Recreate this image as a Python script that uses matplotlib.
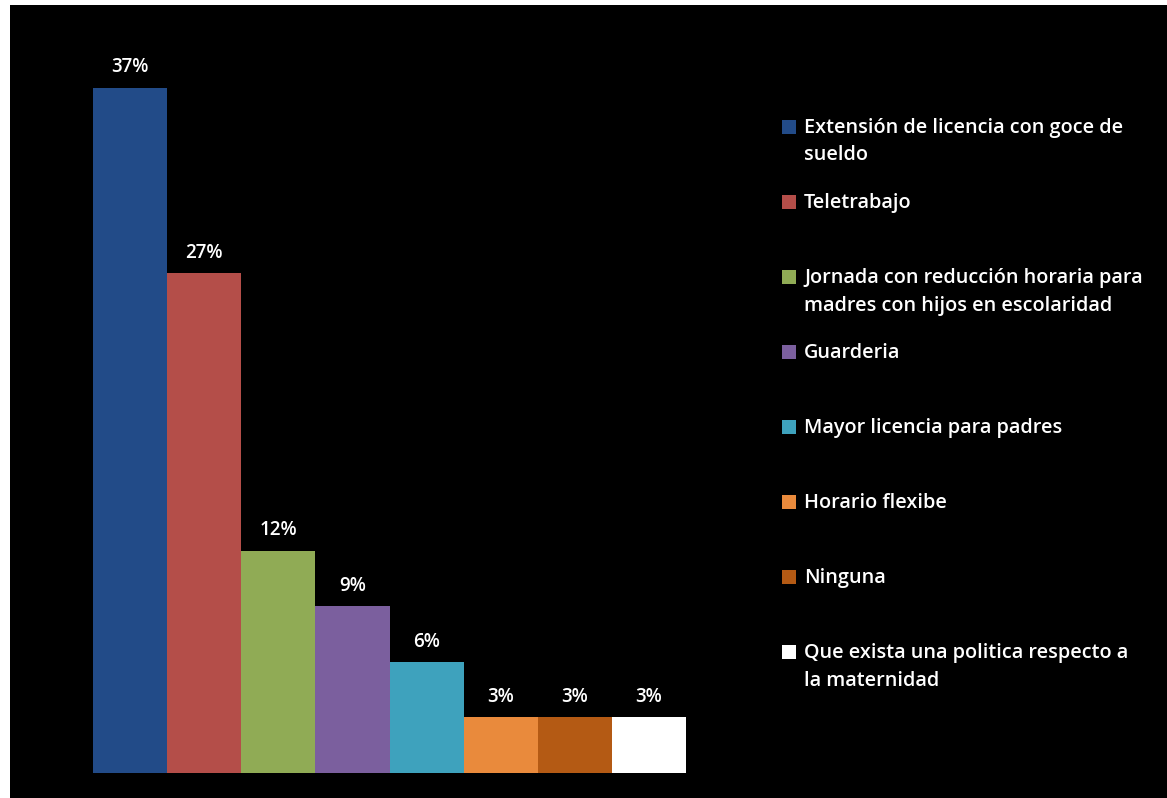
import matplotlib.pyplot as plt
from matplotlib.patches import Rectangle

plt.rcParams['font.family'] = ['Open Sans', 'DejaVu Sans']

categorias = [
    "Extensión de licencia con goce de\nsueldo",
    "Teletrabajo",
    "Jornada con reducción horaria para\nmadres con hijos en escolaridad",
    "Guarderia",
    "Mayor licencia para padres",
    "Horario flexibe",
    "Ninguna",
    "Que exista una politica respecto a\nla maternidad",
]
porcentajes = [37, 27, 12, 9, 6, 3, 3, 3]
colores = ["#224b88", "#b44e49", "#90ab55", "#7b5f9e", "#3ea2bd",
           "#e98a3c", "#b45a14", "#ffffff"]

W, H = 1167, 798
fig = plt.figure(figsize=(W / 100, H / 100), dpi=100, facecolor="white")
# black panel with a thin white margin on the top and left
fig.patches.append(Rectangle((10 / W, 0), 1 - 10 / W, 1 - 5 / H,
                             transform=fig.transFigure, facecolor="black",
                             edgecolor="none", zorder=-5))

ax = fig.add_axes([93 / W, 25 / H, (686 - 93) / W, 740.8 / H])
ax.set_facecolor("black")
x = range(len(porcentajes))
barras = ax.bar(x, porcentajes, width=1.0, color=colores, edgecolor="none")
ax.set_xlim(-0.5, len(porcentajes) - 0.5)
ax.set_ylim(0, 40)
for b, v in zip(barras, porcentajes):
    ax.annotate(f"{v}%", (b.get_x() + b.get_width() / 2, v),
                xytext=(0, 11), textcoords="offset points",
                ha="center", va="baseline", color="white", fontsize=13.5,
                fontweight="semibold")
ax.axis("off")

# legend, one entry every ~75 px
y0 = 127
for i, (lab, c) in enumerate(zip(categorias, colores)):
    yy = y0 + i * 75
    fig.patches.append(Rectangle((782 / W, 1 - (yy + 7) / H), 14 / W, 14 / H,
                                 transform=fig.transFigure, facecolor=c,
                                 edgecolor="none"))
    fig.text(804 / W, 1 - (yy - 9) / H, lab, color="white", fontsize=14.3,
             fontweight="semibold", va="top", ha="left", linespacing=1.5)

fig.savefig("out.png", dpi=100, facecolor=fig.get_facecolor())
